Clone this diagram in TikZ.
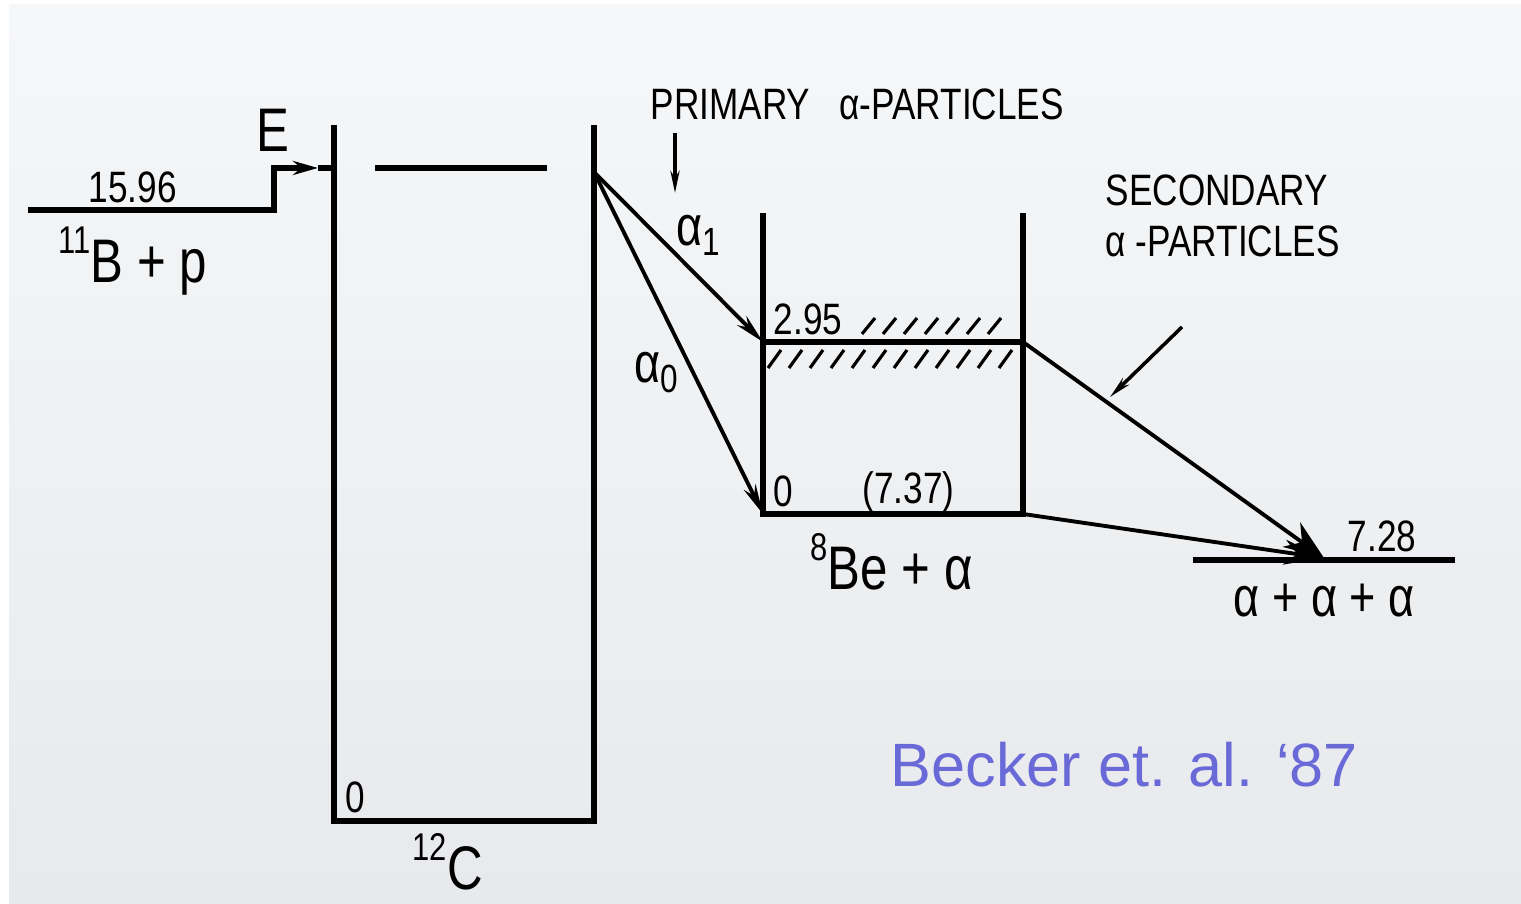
\documentclass[tikz,border=0pt]{standalone}
\usepackage{fontspec}
\setmainfont{Liberation Sans}
\newfontfamily\dinfont{Liberation Sans}[FakeStretch=0.8]
\usetikzlibrary{arrows.meta,positioning}
\definecolor{bgtop}{RGB}{246,247,248}
\definecolor{bgbot}{RGB}{232,233,236}
\definecolor{citeblue}{RGB}{105,105,215}
\tikzset{
  lvlline/.style={line width=1.5pt},
  wallline/.style={line width=1.5pt},
  transarr/.style={-{Stealth[length=0.3cm,width=0.13cm]},line width=1.1pt},
  ptrarr/.style={-{Stealth[length=0.22cm,width=0.09cm]},line width=1pt},
  hatchln/.style={line width=0.9pt},
  numlbl/.style={font=\dinfont\fontsize{12.5}{14.5}\selectfont,inner sep=0pt,anchor=base west},
  alphalbl/.style={font=\dinfont\fontsize{16}{18}\selectfont,inner sep=0pt,anchor=base west},
  biglbl/.style={font=\dinfont\fontsize{17.5}{20}\selectfont,inner sep=0pt,anchor=base west},
  citelbl/.style={font=\fontsize{17.4}{20}\selectfont,text=citeblue,inner sep=0pt,anchor=base west}
}
\newcommand{\nuc}[2]{\raisebox{8.5pt}{\fontsize{11}{12}\selectfont #1}#2}

\begin{document}
\begin{tikzpicture}[x=0.01cm,y=-0.01cm]
  \useasboundingbox (0,0) rectangle (1521,904);
  \shade[top color=bgtop,bottom color=bgbot] (9,5) rectangle (1521,904);

  \coordinate (bp-w) at (28,210);
  \coordinate (bp-e) at (274,210);
  \coordinate (feed) at (318,168);
  \coordinate (cL-top) at (334,125);
  \coordinate (cL-bot) at (334,821);
  \coordinate (cR-top) at (594,125);
  \coordinate (cR-bot) at (594,821);
  \coordinate (cres-w) at (375,168);
  \coordinate (cres-e) at (547,168);
  \coordinate (src) at (594,172);
  \coordinate (beL-top) at (763,213);
  \coordinate (beL-bot) at (763,514);
  \coordinate (beR-top) at (1023,213);
  \coordinate (beR-bot) at (1023,514);
  \coordinate (be1-w) at (763,342);
  \coordinate (be1-e) at (1023,342);
  \coordinate (aaa-w) at (1193,560);
  \coordinate (aaa-e) at (1455,560);
  \coordinate (aaa-hit) at (1324,558);
  \coordinate (prim-root) at (675,133);
  \coordinate (prim-tip) at (675,193);
  \coordinate (sec-root) at (1182,327);
  \coordinate (sec-tip) at (1110,397);

  \draw[lvlline,-{Stealth[length=0.25cm,width=0.14cm]}] (bp-w) -- (bp-e) |- (feed);
  \draw[lvlline] (feed) -- (feed -| cL-top);
  \draw[wallline] (cL-top) -- (cL-bot) -- (cR-bot) -- (cR-top);
  \draw[lvlline] (cres-w) -- (cres-e);
  \draw[wallline] (beL-top) -- (beL-bot) -- (beR-bot) -- (beR-top);
  \draw[lvlline] (be1-w) -- (be1-e);
  \draw[lvlline] (aaa-w) -- (aaa-e);
  \foreach \x in {862,883,...,1000} \draw[hatchln] (\x,334) -- ++(13,-16);
  \foreach \x in {768,789,...,1000} \draw[hatchln] (\x,368) -- ++(13,-18);

  \draw[transarr] (src) -- (be1-w);
  \draw[transarr] (src) -- (beL-bot);
  \draw[transarr,-{Stealth[length=0.4cm,width=0.3cm]}] (be1-e) -- (aaa-hit);
  \draw[transarr,-{Stealth[length=0.4cm,width=0.25cm]}] (beR-bot) -- (aaa-hit);
  \draw[ptrarr] (prim-root) -- (prim-tip);
  \draw[ptrarr] (sec-root) -- (sec-tip);

  \node[biglbl] (Elbl) at (256,152) {E};
  \node[numlbl] (bpval) at (88,203) {15.96};
  \node[biglbl] (bpname) at (58,283) {\nuc{11}{B} + p};
  \node[numlbl] (prim) at (650,120) {PRIMARY\ \ \ α-PARTICLES};
  \node[alphalbl] (a1lbl) at (676,246) {α\textsubscript{1}};
  \node[alphalbl] (a0lbl) at (634,383) {α\textsubscript{0}};
  \node[numlbl] (be1val) at (773,335) {2.95};
  \node[numlbl] (be0val) at (773,507) {0};
  \node[numlbl] (bethr) at (862,504) {(7.37)};
  \node[biglbl] (bename) at (810,590) {\nuc{8}{Be} + α};
  \node[numlbl] (aaaval) at (1347,552) {7.28};
  \node[alphalbl] (aaaname) at (1233,617) {α + α + α};
  \node[numlbl,align=left] (sec) at (1105,257) {SECONDARY\\α -PARTICLES};
  \node[numlbl] (c0val) at (345,813) {0};
  \node[biglbl] (cname) at (412,890) {\nuc{12}{C}};
  \node[citelbl] (cite) at (890,787) {Becker et. al. ‘87};
\end{tikzpicture}
\end{document}
